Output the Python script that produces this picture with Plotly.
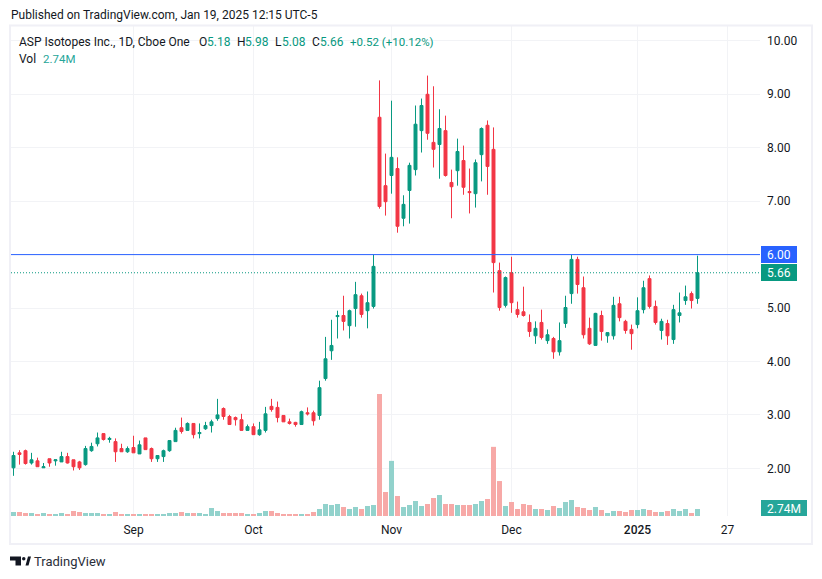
import plotly.graph_objects as go

# daily OHLC, index = trading day
opens = [2.01, 2.29, 2.33, 2.10, 2.14, 2.01, 2.18, 2.14, 2.12, 2.22, 2.16, 2.12, 2.07, 2.33, 2.46,
         2.65, 2.54, 2.50, 2.37, 2.31, 2.39, 2.27, 2.57, 2.37, 2.18, 2.22, 2.33, 2.50, 2.76, 2.71,
         2.84, 2.65, 2.74, 2.80, 2.93, 3.12, 2.97, 2.95, 2.91, 2.71, 2.78, 2.63, 2.71, 3.16, 3.14,
         2.99, 2.87, 2.86, 2.82, 3.04, 3.04, 2.99, 3.68, 4.20, 4.84, 4.86, 4.67, 4.99, 5.23, 4.95,
         5.03, 8.57, 7.29, 7.48, 7.61, 6.68, 7.20, 7.59, 8.32, 9.00, 8.10, 8.06, 8.32, 7.35, 7.57,
         7.76, 7.18, 7.14, 7.87, 8.42, 7.97, 5.70, 5.05, 5.66, 4.97, 4.93, 4.73, 4.48, 4.73, 4.39,
         4.43, 4.18, 4.71, 5.27, 5.91, 5.38, 4.62, 4.30, 4.86, 4.48, 4.48, 5.08, 4.75, 4.60, 4.69,
         4.97, 5.55, 5.03, 4.58, 4.71, 4.41, 4.86, 5.14, 5.27, 5.18]
highs = [2.31, 2.34, 2.35, 2.29, 2.20, 2.10, 2.18, 2.16, 2.31, 2.29, 2.16, 2.14, 2.42, 2.48, 2.67,
         2.65, 2.59, 2.56, 2.46, 2.41, 2.61, 2.52, 2.57, 2.39, 2.24, 2.35, 2.52, 2.76, 2.95, 2.86,
         2.84, 2.84, 2.87, 2.91, 3.30, 3.14, 3.00, 2.97, 3.02, 2.82, 2.84, 2.87, 3.15, 3.30, 3.25,
         2.99, 2.93, 2.87, 3.08, 3.14, 3.08, 3.64, 4.46, 4.78, 4.95, 5.23, 4.97, 5.49, 5.27, 5.31,
         6.00, 9.26, 7.89, 8.88, 7.82, 7.11, 7.72, 8.79, 8.92, 9.35, 9.15, 8.72, 8.60, 7.59, 8.17,
         8.04, 7.61, 7.78, 8.38, 8.51, 8.38, 5.85, 5.59, 5.96, 5.12, 5.40, 4.88, 4.75, 4.97, 4.60,
         4.46, 4.73, 5.23, 6.00, 5.96, 5.59, 4.82, 4.91, 4.95, 4.54, 5.21, 5.21, 4.78, 4.69, 5.20,
         5.51, 5.61, 5.14, 4.80, 4.78, 5.06, 5.29, 5.42, 5.31, 5.98]
lows = [1.86, 2.07, 2.07, 2.07, 2.03, 2.01, 2.03, 2.05, 2.12, 2.09, 1.96, 1.97, 2.05, 2.31, 2.41,
        2.52, 2.48, 2.12, 2.31, 2.29, 2.29, 2.27, 2.35, 2.12, 2.12, 2.12, 2.31, 2.50, 2.65, 2.71,
        2.56, 2.56, 2.72, 2.67, 2.89, 2.91, 2.82, 2.80, 2.71, 2.71, 2.63, 2.61, 2.67, 3.06, 2.86,
        2.87, 2.82, 2.78, 2.82, 2.99, 2.80, 2.91, 3.64, 4.03, 4.43, 4.58, 4.43, 4.65, 4.82, 4.62,
        4.99, 6.86, 6.73, 7.14, 6.41, 6.53, 6.58, 7.48, 7.91, 8.15, 7.63, 7.42, 7.46, 6.68, 7.29,
        7.12, 6.77, 6.88, 7.37, 7.12, 5.29, 4.95, 5.01, 4.91, 4.82, 4.84, 4.46, 4.33, 4.41, 4.33,
        4.05, 4.11, 4.63, 5.08, 5.27, 4.43, 4.31, 4.30, 4.39, 4.35, 4.41, 4.75, 4.52, 4.22, 4.62,
        4.90, 4.99, 4.69, 4.41, 4.31, 4.33, 4.73, 5.06, 4.99, 5.08]
closes = [2.24, 2.26, 2.09, 2.16, 2.03, 2.03, 2.10, 2.16, 2.22, 2.10, 2.03, 2.01, 2.37, 2.41, 2.57,
          2.54, 2.56, 2.31, 2.31, 2.37, 2.29, 2.44, 2.35, 2.18, 2.24, 2.33, 2.52, 2.71, 2.69, 2.84,
          2.63, 2.67, 2.80, 2.87, 3.00, 2.97, 2.82, 2.91, 2.71, 2.78, 2.63, 2.72, 3.02, 3.10, 2.95,
          2.87, 2.84, 2.82, 3.06, 3.02, 2.89, 3.51, 4.05, 4.30, 4.86, 4.75, 4.95, 5.25, 4.88, 5.10,
          5.78, 6.90, 6.99, 7.82, 6.53, 6.94, 7.67, 8.44, 8.79, 8.27, 7.97, 8.36, 7.48, 7.27, 7.93,
          7.26, 7.16, 7.72, 8.36, 7.65, 5.85, 5.01, 5.57, 5.10, 4.88, 4.86, 4.56, 4.62, 4.45, 4.50,
          4.18, 4.39, 5.01, 5.91, 5.44, 4.50, 4.33, 4.90, 4.56, 4.54, 5.05, 4.82, 4.58, 4.52, 4.95,
          5.38, 5.03, 4.73, 4.75, 4.48, 4.97, 4.91, 5.21, 5.14, 5.66]
# volume in millions
volumes = [1.57, 1.57, 1.18, 1.18, 0.78, 1.18, 0.78, 0.78, 1.18, 0.78, 1.96, 1.57, 1.18, 1.18, 1.18,
           0.78, 0.78, 1.57, 0.78, 0.78, 0.78, 0.78, 0.78, 0.78, 0.78, 0.78, 1.18, 1.18, 1.57, 1.18,
           1.18, 1.18, 0.78, 3.14, 1.96, 1.18, 1.18, 1.18, 1.18, 0.78, 0.78, 1.18, 1.96, 1.96, 1.18,
           0.78, 0.78, 0.78, 0.78, 0.78, 1.57, 2.74, 4.71, 4.31, 4.71, 3.53, 2.74, 3.53, 2.74, 3.92,
           4.31, 47.8, 9.41, 21.6, 7.84, 3.53, 4.31, 5.88, 3.92, 4.71, 7.06, 8.24, 4.71, 4.71, 4.31,
           4.31, 4.31, 4.71, 5.88, 6.67, 27.1, 13.7, 3.92, 5.49, 2.74, 4.71, 4.31, 2.74, 2.74, 2.35,
           3.92, 3.14, 5.49, 6.27, 3.53, 3.14, 2.35, 3.53, 2.35, 1.18, 1.96, 1.96, 1.57, 2.35, 2.35,
           2.74, 2.35, 1.57, 1.57, 1.96, 2.74, 1.96, 2.74, 1.18, 2.74]

month_ticks = [20, 40, 63, 83, 104, 119]
month_labels = ["Sep", "Oct", "Nov", "Dec", "<span style='font-weight:500'>2025</span>", "27"]
price_ticks = [2, 3, 4, 5, 6, 7, 8, 9, 10]
price_labels = ["2.00", "3.00", "4.00", "5.00", "6.00", "7.00", "8.00", "9.00", "10.00"]
level_line = 6.00
last_close = 5.66

GREEN = "#089981"
RED = "#F23645"
VOL_GREEN = "#92D2CC"
VOL_RED = "#F7A9A7"
BLUE = "#2962FF"
GRID = "#F2F3F6"
FRAME = "#F0F0F6"
INK = "#131722"
FONT = "Roboto"

W, H = 822, 579
LEFT, RIGHT, TOP, BOTTOM = 11, 760, 26, 516


def px(x):
    return (x - LEFT) / (RIGHT - LEFT)


def py(y):
    return (BOTTOM - y) / (BOTTOM - TOP)


def label(fig, x, y, text, color=INK, size=12, anchor="left"):
    fig.add_annotation(x=px(x), y=py(y), xref="paper", yref="paper", text=text, showarrow=False,
                       xanchor=anchor, yanchor="middle", borderpad=0, align="left",
                       font=dict(family=FONT, size=size, color=color))


def box(fig, x0, y0, x1, y1, fill, line=None, width=0):
    fig.add_shape(type="rect", xref="paper", yref="paper", layer="above",
                  x0=px(x0), x1=px(x1), y0=py(y0), y1=py(y1), fillcolor=fill,
                  line=dict(color=line, width=width) if line else dict(width=0))


days = list(range(len(opens)))
vol_colors = [VOL_GREEN if c >= o else VOL_RED for o, c in zip(opens, closes)]

fig = go.Figure()
fig.add_trace(go.Bar(x=days, y=volumes, yaxis="y2", width=0.83, marker=dict(color=vol_colors, line_width=0),
                     showlegend=False))
fig.add_trace(go.Candlestick(x=days, open=opens, high=highs, low=lows, close=closes, showlegend=False,
                             whiskerwidth=0,
                             increasing=dict(line=dict(color=GREEN, width=1), fillcolor=GREEN),
                             decreasing=dict(line=dict(color=RED, width=1), fillcolor=RED)))

fig.update_layout(
    width=W, height=H, autosize=False,
    margin=dict(l=LEFT, r=W - RIGHT, t=TOP, b=H - BOTTOM, pad=0),
    paper_bgcolor="white", plot_bgcolor="white",
    font=dict(family=FONT, size=12, color=INK),
    xaxis=dict(range=[-0.4167, 124.417], tickvals=month_ticks, ticktext=month_labels, showgrid=True,
               gridcolor=GRID, gridwidth=1, zeroline=False, showline=False, ticks="", rangeslider=dict(visible=False),
               tickfont=dict(family=FONT, size=12, color=INK), ticklabelstandoff=5),
    yaxis=dict(range=[1.108, 10.278], side="right", tickvals=price_ticks, ticktext=price_labels, showgrid=True,
               gridcolor=GRID, gridwidth=1, zeroline=False, showline=False, ticks="", overlaying="y2",
               tickfont=dict(family=FONT, size=12, color=INK), ticklabelstandoff=6),
    yaxis2=dict(range=[0, 192], visible=False, showgrid=False, zeroline=False),
    barmode="overlay",
)

# price lines
fig.add_shape(type="line", xref="paper", yref="y", x0=0, x1=1, y0=level_line, y1=level_line, layer="above",
              line=dict(color=BLUE, width=1))
fig.add_shape(type="line", xref="paper", yref="y", x0=0, x1=1, y0=last_close, y1=last_close, layer="above",
              line=dict(color=GREEN, width=1, dash="1px,2px"))

# frame around the chart
box(fig, 10, 25.5, 812, 544, "rgba(0,0,0,0)", FRAME, 2)

# price tags on the axis
box(fig, 761, 246, 797, 263, BLUE)
box(fig, 761, 264, 797, 281, GREEN)
box(fig, 761, 500, 807, 516, "#26A69A")
label(fig, 779, 255, "6.00", "white", anchor="center")
label(fig, 779, 273, "5.66", "white", anchor="center")
label(fig, 784, 509, "2.74M", "white", anchor="center")

# header
label(fig, 10, 15, "Published on TradingView.com, Jan 19, 2025 12:15 UTC-5")
label(fig, 18, 41.5, "ASP Isotopes Inc., 1D, Cboe One")
label(fig, 198, 41.5, "O")
label(fig, 205.5, 41.5, "5.18", GREEN)
label(fig, 236, 41.5, "H")
label(fig, 244, 41.5, "5.98", GREEN)
label(fig, 274, 41.5, "L")
label(fig, 281, 41.5, "5.08", GREEN)
label(fig, 311, 41.5, "C")
label(fig, 319, 41.5, "5.66", GREEN)
label(fig, 349, 41.5, "+0.52 (+10.12%)", GREEN, size=11.5)
label(fig, 18, 59, "Vol")
label(fig, 41.5, 59, "2.74M", "#26A69A", size=11.5)

# footer logo and name
logo = [[(10, 556.5), (21, 556.5), (21, 565.5), (15.5, 565.5), (15.5, 560.5), (10, 560.5)],
        [(25.5, 565.5), (28, 556.5), (31, 556.5), (28.5, 565.5)]]
for part in logo:
    path = "M " + " L ".join(f"{px(a):.5f},{py(b):.5f}" for a, b in part) + " Z"
    fig.add_shape(type="path", xref="paper", yref="paper", path=path, fillcolor=INK, line=dict(width=0))
fig.add_shape(type="circle", xref="paper", yref="paper", x0=px(22), x1=px(25.5), y0=py(560.5), y1=py(557),
              fillcolor=INK, line=dict(width=0))
label(fig, 33, 561.5, "TradingView", "#2A2E39", size=13)

fig.write_html("out.html", config=dict(displayModeBar=False),
               post_script="document.body.style.margin='0';document.body.style.overflow='hidden';")
